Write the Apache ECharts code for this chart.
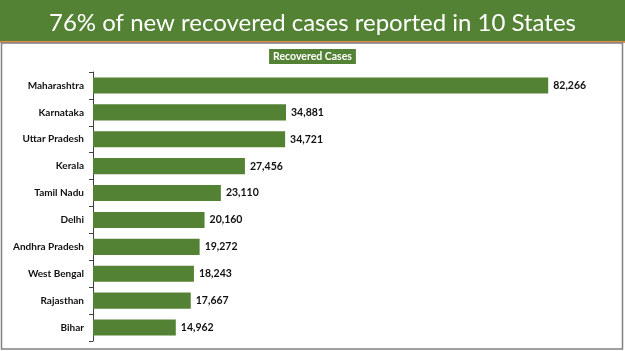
<!DOCTYPE html>
<html>
<head>
<meta charset="utf-8">
<script src="https://cdn.jsdelivr.net/npm/echarts@6/dist/echarts.min.js"></script>
<style>
    html, body {margin: 0; padding: 0; background: #fff;}
    #chart {width: 625px; height: 351px;}
</style>
</head>
<body>
<div id="chart"></div>
<script>
    // states, top to bottom
    var states = ['Maharashtra', 'Karnataka', 'Uttar Pradesh', 'Kerala', 'Tamil Nadu',
        'Delhi', 'Andhra Pradesh', 'West Bengal', 'Rajasthan', 'Bihar'];
    // recovered cases
    var recovered = [82266, 34881, 34721, 27456, 23110, 20160, 19272, 18243, 17667, 14962];

    var green = '#548235';

    var chart = echarts.init(document.getElementById('chart'));
    var option = {
        animation: false,
        textStyle: {fontFamily: 'Lato'},
        title: {
            text: '76% of new recovered cases reported in 10 States',
            left: 'center',
            top: 6,
            textStyle: {color: '#fff', fontSize: 24, fontWeight: 'normal', fontFamily: 'Lato'}
        },
        legend: {
            data: ['Recovered Cases'],
            top: 49,
            left: 'center',
            itemWidth: 0,
            itemHeight: 0,
            backgroundColor: green,
            padding: [2, 4],
            borderRadius: 0,
            textStyle: {color: '#fff', fontSize: 10.5, fontWeight: 'bold', padding: [0, 0, 0, -8]}
        },
        grid: {
            left: 93,
            right: 34,
            top: 72,
            bottom: 10
        },
        xAxis: {
            type: 'value',
            min: 0,
            max: 90000,
            show: false
        },
        yAxis: {
            type: 'category',
            inverse: true,
            data: states,
            axisLine: {show: true, lineStyle: {color: '#404040', width: 1}},
            axisTick: {show: true, length: 4, lineStyle: {color: '#404040'}},
            axisLabel: {color: '#111', fontSize: 10, fontWeight: 'bold', margin: 9}
        },
        series: [{
            name: 'Recovered Cases',
            type: 'bar',
            data: recovered,
            barWidth: '60%',
            itemStyle: {color: green},
            label: {
                show: true,
                position: 'right',
                distance: 5,
                color: '#111',
                fontSize: 10.5,
                fontWeight: 'bold',
                formatter: function (p) {
                    return p.value.toLocaleString('en-US');
                }
            }
        }],
        graphic: [
            {type: 'rect', z: -1, shape: {x: 0, y: 0, width: 625, height: 41}, style: {fill: green}},
            {type: 'rect', z: -1, shape: {x: 0, y: 41, width: 625, height: 2}, style: {fill: '#e08a4c'}},
            {type: 'rect', z: -1, shape: {x: 1.5, y: 43, width: 621, height: 306},
                style: {fill: 'none', stroke: '#808080', lineWidth: 1.5}}
        ]
    };
    chart.setOption(option);
</script>
</body>
</html>
